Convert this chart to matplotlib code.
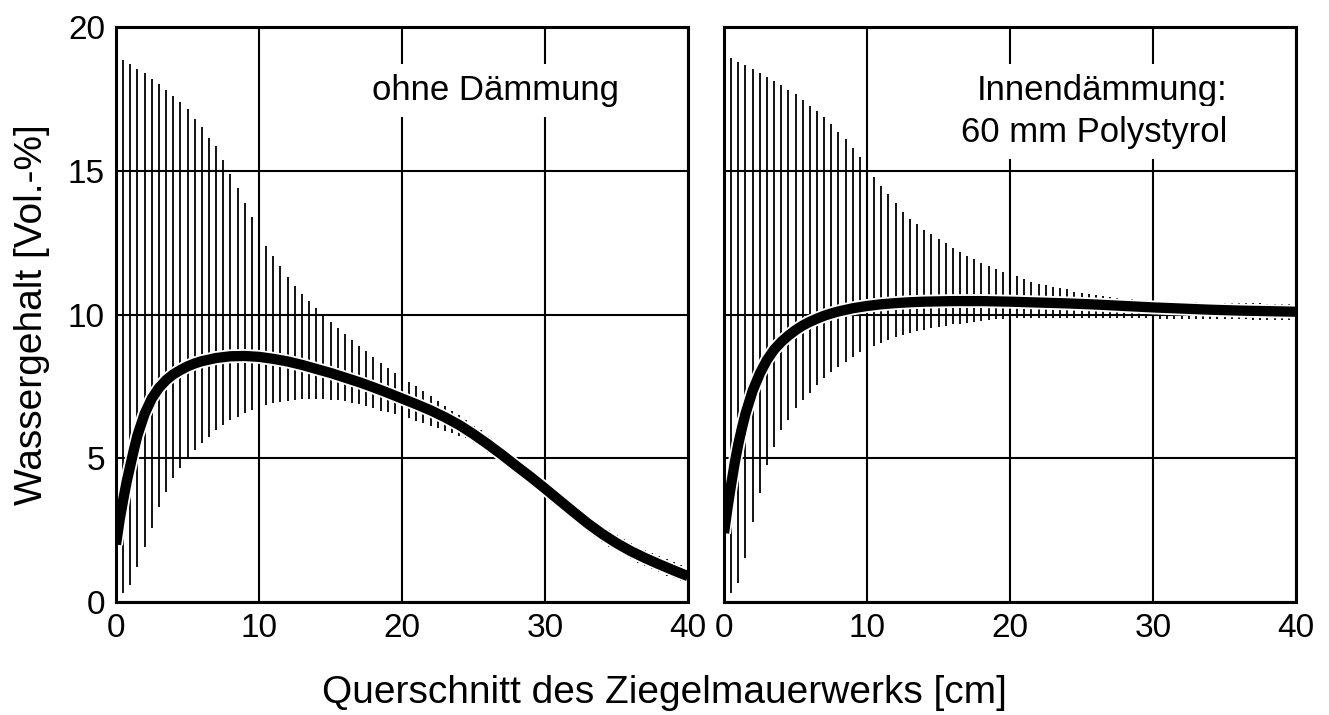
import matplotlib
matplotlib.use("Agg")
import matplotlib.pyplot as plt
import matplotlib.patheffects as pe
import numpy as np

plt.rcParams['font.family'] = ['Liberation Sans', 'DejaVu Sans']

# positions of the vertical hatch lines [cm]
hatch_x = np.arange(0.5, 40.0, 0.5)

# ohne Daemmung: upper / lower bound of the band, mean profile
left_upper = [18.85, 18.71, 18.54, 18.41, 18.21, 18.04, 17.82, 17.60, 17.38, 17.14,
              16.81, 16.51, 16.16, 15.87, 15.37, 14.89, 14.39, 13.89, 13.40, 12.90,
              12.39, 12.04, 11.69, 11.32, 10.99, 10.71, 10.48, 10.23, 9.96, 9.75,
              9.52, 9.32, 9.11, 8.90, 8.72, 8.51, 8.32, 8.15, 7.98, 7.83,
              7.67, 7.51, 7.34, 7.17, 7.00, 6.83, 6.66, 6.49, 6.33, 6.14,
              5.98, 5.77, 5.58, 5.40, 5.17, 5.00, 4.80, 4.60, 4.40, 4.22,
              4.02, 3.82, 3.61, 3.41, 3.21, 3.01, 2.83, 2.65, 2.49, 2.33,
              2.19, 2.05, 1.93, 1.81, 1.70, 1.59, 1.48, 1.38, 1.28]
left_lower = [0.30, 0.59, 1.23, 1.92, 2.56, 3.32, 3.84, 4.30, 4.65, 5.00,
              5.29, 5.52, 5.75, 6.00, 6.16, 6.33, 6.45, 6.56, 6.68, 6.77,
              6.85, 6.91, 6.97, 7.00, 7.03, 7.05, 7.06, 7.06, 7.05, 7.04,
              7.02, 6.99, 6.94, 6.88, 6.81, 6.74, 6.66, 6.60, 6.53, 6.45,
              6.39, 6.30, 6.22, 6.13, 6.04, 5.96, 5.87, 5.79, 5.70, 5.55,
              5.38, 5.20, 5.02, 4.84, 4.65, 4.46, 4.27, 4.07, 3.88, 3.68,
              3.46, 3.26, 3.05, 2.85, 2.65, 2.45, 2.27, 2.09, 1.93, 1.77,
              1.63, 1.49, 1.37, 1.25, 1.14, 1.03, 0.92, 0.82, 0.72]
left_mean_x = [0, 0.25, 0.5, 0.75, 1, 1.25, 1.5, 2, 2.5, 3, 3.5, 4, 4.5, 5, 5.5, 6,
               7, 8, 9, 10, 11, 12, 13, 14, 15, 16, 17, 18, 19, 20, 21, 22, 23, 24,
               25, 26, 27, 28, 29, 30, 31, 32, 33, 34, 35, 36, 37, 38, 39, 40]
left_mean = [2.0, 2.85, 3.55, 4.2, 4.75, 5.3, 5.8, 6.55, 7.08, 7.45, 7.72, 7.92, 8.07,
             8.2, 8.3, 8.38, 8.49, 8.55, 8.56, 8.53, 8.46, 8.37, 8.25, 8.11, 7.97,
             7.81, 7.65, 7.47, 7.28, 7.08, 6.88, 6.67, 6.43, 6.16, 5.84, 5.49, 5.12,
             4.73, 4.35, 3.95, 3.54, 3.13, 2.73, 2.37, 2.05, 1.77, 1.53, 1.31, 1.1,
             0.9]

# Innendaemmung 60 mm Polystyrol
right_upper = [18.91, 18.79, 18.68, 18.56, 18.42, 18.27, 18.13, 17.98, 17.83, 17.66,
               17.46, 17.26, 17.09, 16.88, 16.63, 16.36, 16.10, 15.78, 15.47, 15.13,
               14.79, 14.48, 14.18, 13.87, 13.58, 13.34, 13.14, 12.96, 12.80, 12.63,
               12.48, 12.32, 12.18, 12.05, 11.93, 11.80, 11.69, 11.58, 11.49, 11.41,
               11.34, 11.23, 11.14, 11.08, 11.03, 10.97, 10.93, 10.88, 10.80, 10.76,
               10.71, 10.68, 10.64, 10.62, 10.58, 10.55, 10.53, 10.52, 10.50, 10.48,
               10.47, 10.46, 10.45, 10.44, 10.43, 10.43, 10.42, 10.42, 10.41, 10.41,
               10.40, 10.40, 10.39, 10.39, 10.39, 10.38, 10.38, 10.38, 10.38]
right_lower = [0.33, 0.65, 1.52, 2.79, 3.78, 4.77, 5.41, 5.98, 6.33, 6.74,
               7.03, 7.26, 7.55, 7.78, 8.01, 8.19, 8.36, 8.53, 8.71, 8.80,
               8.90, 9.02, 9.11, 9.23, 9.29, 9.37, 9.43, 9.48, 9.54, 9.58,
               9.61, 9.66, 9.69, 9.71, 9.75, 9.77, 9.81, 9.83, 9.85, 9.86,
               9.87, 9.87, 9.87, 9.87, 9.87, 9.87, 9.87, 9.87, 9.87, 9.87,
               9.87, 9.87, 9.87, 9.87, 9.87, 9.87, 9.87, 9.87, 9.87, 9.87,
               9.86, 9.86, 9.86, 9.85, 9.85, 9.85, 9.84, 9.84, 9.84, 9.83,
               9.83, 9.83, 9.83, 9.82, 9.82, 9.82, 9.82, 9.81, 9.81]
right_mean_x = [0, 0.25, 0.5, 0.75, 1, 1.25, 1.5, 2, 2.5, 3, 3.5, 4, 4.5, 5, 5.5, 6,
                6.5, 7, 7.5, 8, 9, 10, 11, 12, 13, 14, 15, 16, 17, 18, 19, 20, 22,
                24, 26, 28, 30, 32, 34, 36, 38, 40]
right_mean = [2.4, 3.3, 4.1, 4.85, 5.5, 6.05, 6.55, 7.35, 7.95, 8.42, 8.78, 9.05,
              9.27, 9.46, 9.62, 9.75, 9.86, 9.96, 10.04, 10.11, 10.22, 10.3, 10.36,
              10.4, 10.43, 10.45, 10.46, 10.47, 10.47, 10.47, 10.46, 10.45, 10.42,
              10.39, 10.35, 10.3, 10.25, 10.21, 10.17, 10.14, 10.12, 10.1]

x_ticks = [0, 10, 20, 30, 40]
y_ticks = [0, 5, 10, 15, 20]


def draw_panel(ax, upper, lower, mean_x, mean):
    ax.vlines(hatch_x, lower, upper, colors='black', linewidth=1.3, zorder=2)
    ax.plot(mean_x, mean, color='black', linewidth=7.4, solid_capstyle='butt',
            solid_joinstyle='round', zorder=4,
            path_effects=[pe.Stroke(linewidth=10, foreground='white'), pe.Normal()])
    ax.set_xlim(0, 40)
    ax.set_ylim(0, 20)
    ax.set_xticks(x_ticks)
    ax.set_yticks(y_ticks)
    ax.grid(True, color='black', linewidth=1.5)
    ax.set_axisbelow(True)
    ax.tick_params(length=0, labelsize=24, pad=8)
    for s in ax.spines.values():
        s.set_linewidth(2.2)
        s.set_zorder(5)


def main():
    fig = plt.figure(figsize=(13.29, 7.15), dpi=100)
    ax1 = fig.add_axes([0.0873, 0.158, 0.4304, 0.804])
    ax2 = fig.add_axes([0.5448, 0.158, 0.4304, 0.804])

    draw_panel(ax1, left_upper, left_lower, left_mean_x, left_mean)
    draw_panel(ax2, right_upper, right_lower, right_mean_x, right_mean)
    ax2.tick_params(labelleft=False)

    box = dict(facecolor='white', edgecolor='none', pad=7)
    ax1.text(35.2, 17.46, 'ohne Dämmung', fontsize=25, ha='right', va='baseline',
             zorder=6, bbox=box)
    ax2.text(35.17, 17.48, 'Innendämmung:', fontsize=25, ha='right', va='baseline',
             zorder=6, bbox=box)
    ax2.text(35.17, 16.01, '60 mm Polystyrol', fontsize=25, ha='right', va='baseline',
             zorder=6, bbox=box)

    fig.text(32 / 1329, 0.56, 'Wassergehalt [Vol.-%]', fontsize=28, rotation=90,
             ha='center', va='center')
    fig.text(0.5, 0.031, 'Querschnitt des Ziegelmauerwerks [cm]', fontsize=28,
             ha='center', va='center')

    fig.savefig('out.png', dpi=100)


if __name__ == "__main__":
    main()
